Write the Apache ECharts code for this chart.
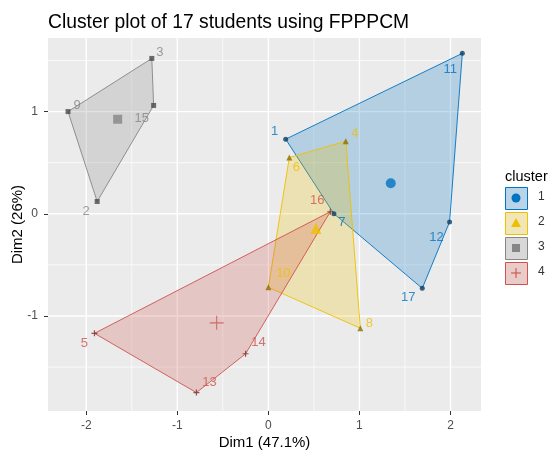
<!DOCTYPE html>
<html><head><meta charset="utf-8">
<script src="https://cdn.jsdelivr.net/npm/echarts@6/dist/echarts.min.js"></script>
<style>html,body{margin:0;padding:0;background:#fff}#c{width:553px;height:452px}</style>
</head><body><div id="c"></div>
<script>
// ---- data ----
const clusterNames = ['1', '2', '3', '4'];
const c1Ids = ['1', '7', '11', '12', '17'];
const c1Dim1 = [0.19, 0.72, 2.13, 1.99, 1.69];
const c1Dim2 = [0.73, 0.00, 1.57, -0.08, -0.73];
const c2Ids = ['4', '6', '8', '10'];
const c2Dim1 = [0.85, 0.23, 1.01, 0.00];
const c2Dim2 = [0.71, 0.55, -1.12, -0.72];
const c3Ids = ['2', '3', '9', '15'];
const c3Dim1 = [-1.88, -1.28, -2.20, -1.26];
const c3Dim2 = [0.12, 1.52, 1.00, 1.06];
const c4Ids = ['5', '13', '14', '16'];
const c4Dim1 = [-1.91, -0.79, -0.25, 0.68];
const c4Dim2 = [-1.17, -1.75, -1.37, 0.02];
const xTicks = [-2, -1, 0, 1, 2];
const yTicks = [-1, 0, 1];
const xMinor = [-1.5, -0.5, 0.5, 1.5];
const yMinor = [-1.5, -0.5, 0.5, 1.5];
const xRange = [-2.42, 2.335];
const yRange = [-1.93, 1.72];

// ---- styles ----
const FONT = 'Liberation Sans, Arial, sans-serif';
const colors = ['#0073C2', '#EFC000', '#868686', '#CD534C'];
const darkColors = ['#0B3D66', '#8A6E00', '#4A4A4A', '#7A2E2A'];
const fillAlpha = 0.24;
const plusPath = 'path://M0,5L10,5M5,0L5,10';
const memberSymbols = ['circle', 'triangle', 'rect', plusPath];
const memberSizes = [5, 6, 5, 6];
const centerSizes = [10, 11, 9, 14];
const labelOffset = {
  '1': [-11, -8], '7': [8, 9], '11': [-12, 16], '12': [-13, 15], '17': [-14, 9],
  '4': [9, -8], '6': [7, 10], '8': [9, -5], '10': [15, -14],
  '2': [-11, 10], '3': [8, -6], '9': [9, -6], '15': [-12, 13],
  '5': [-10, 10], '13': [13, -10], '14': [13, -11], '16': [-13, -11]
};

function rgba(hex, a) {
  const n = parseInt(hex.slice(1), 16);
  return 'rgba(' + (n >> 16) + ',' + ((n >> 8) & 255) + ',' + (n & 255) + ',' + a + ')';
}
function hull(pts) {
  const p = pts.slice().sort((a, b) => a[0] - b[0] || a[1] - b[1]);
  const cross = (o, a, b) => (a[0] - o[0]) * (b[1] - o[1]) - (a[1] - o[1]) * (b[0] - o[0]);
  const lower = [], upper = [];
  for (const q of p) { while (lower.length >= 2 && cross(lower[lower.length - 2], lower[lower.length - 1], q) <= 0) lower.pop(); lower.push(q); }
  for (let i = p.length - 1; i >= 0; i--) { const q = p[i]; while (upper.length >= 2 && cross(upper[upper.length - 2], upper[upper.length - 1], q) <= 0) upper.pop(); upper.push(q); }
  upper.pop(); lower.pop();
  return lower.concat(upper);
}

const clusters = [
  { ids: c1Ids, x: c1Dim1, y: c1Dim2 },
  { ids: c2Ids, x: c2Dim1, y: c2Dim2 },
  { ids: c3Ids, x: c3Dim1, y: c3Dim2 },
  { ids: c4Ids, x: c4Dim1, y: c4Dim2 }
];

const series = [];
// grid lines
const gridData = [];
xMinor.forEach(v => gridData.push([v, 0, 0]));
yMinor.forEach(v => gridData.push([v, 1, 0]));
xTicks.forEach(v => gridData.push([v, 0, 1]));
yTicks.forEach(v => gridData.push([v, 1, 1]));
series.push({
  type: 'custom', silent: true, z: 0, data: gridData, clip: true,
  renderItem: (params, api) => {
    const v = api.value(0), o = api.value(1), m = api.value(2);
    const a = o === 0 ? api.coord([v, yRange[0]]) : api.coord([xRange[0], v]);
    const b = o === 0 ? api.coord([v, yRange[1]]) : api.coord([xRange[1], v]);
    return { type: 'line', shape: { x1: a[0], y1: a[1], x2: b[0], y2: b[1] },
      style: { stroke: '#FFFFFF', lineWidth: m ? 1.4 : 0.7 } };
  }
});

clusters.forEach((c, k) => {
  const pts = c.x.map((v, i) => [v, c.y[i]]);
  const h = hull(pts);
  const cx = c.x.reduce((s, v) => s + v, 0) / c.x.length;
  const cy = c.y.reduce((s, v) => s + v, 0) / c.y.length;
  c.center = [cx, cy];
  series.push({
    type: 'custom', name: clusterNames[k], silent: true, z: 1 + k * 0.01, data: [[cx, cy]],
    renderItem: (params, api) => ({
      type: 'polygon', shape: { points: h.map(p => api.coord(p)) },
      style: { fill: rgba(colors[k], fillAlpha), stroke: colors[k], lineWidth: 0.9 }
    })
  });
});
clusters.forEach((c, k) => {
  series.push({
    type: 'scatter', name: clusterNames[k], z: 3, silent: true,
    symbol: memberSymbols[k], symbolSize: memberSizes[k],
    itemStyle: k === 3 ? { color: 'none', borderColor: darkColors[k], borderWidth: 1.2 } : { color: darkColors[k] },
    label: { show: true, position: 'inside', formatter: '{b}', color: colors[k], fontSize: 13, fontFamily: FONT },
    data: c.ids.map((id, i) => ({ name: id, value: [c.x[i], c.y[i]], label: { offset: labelOffset[id] } }))
  });
  series.push({
    type: 'scatter', name: clusterNames[k], z: 4, silent: true,
    symbol: memberSymbols[k], symbolSize: centerSizes[k],
    itemStyle: k === 3 ? { color: 'none', borderColor: colors[k], borderWidth: 1.1 } : { color: colors[k] },
    data: [c.center]
  });
});

// legend drawn as graphics, generated from the cluster names
const graphics = [];
const lgX = 505, lgY = 187, key = 22, pitch = 25;
clusterNames.forEach((nm, k) => {
  const y = lgY + k * pitch;
  const cx = lgX + key / 2, cy = y + key / 2;
  graphics.push({ type: 'rect', left: lgX, top: y, shape: { width: key, height: key },
    style: { fill: '#F2F2F2', stroke: null } });
  graphics.push({ type: 'rect', left: lgX, top: y, shape: { width: key, height: key },
    style: { fill: rgba(colors[k], fillAlpha), stroke: colors[k], lineWidth: 1 } });
  if (k === 0) graphics.push({ type: 'circle', shape: { cx: cx, cy: cy, r: 4.5 }, style: { fill: colors[k] } });
  if (k === 1) graphics.push({ type: 'polygon', shape: { points: [[cx, cy - 5], [cx + 5, cy + 4], [cx - 5, cy + 4]] }, style: { fill: colors[k] } });
  if (k === 2) graphics.push({ type: 'rect', shape: { x: cx - 4, y: cy - 4, width: 8, height: 8 }, style: { fill: colors[k] } });
  if (k === 3) {
    graphics.push({ type: 'line', shape: { x1: cx - 5, y1: cy, x2: cx + 5, y2: cy }, style: { stroke: colors[k], lineWidth: 1.1 } });
    graphics.push({ type: 'line', shape: { x1: cx, y1: cy - 5, x2: cx, y2: cy + 5 }, style: { stroke: colors[k], lineWidth: 1.1 } });
  }
  graphics.push({ type: 'text', left: lgX + key + 11, top: cy - 7,
    style: { text: nm, fill: '#333', font: '12px ' + FONT } });
});

const chart = echarts.init(document.getElementById('c'), null, { renderer: 'canvas' });
chart.setOption({
  animation: false,
  backgroundColor: '#FFFFFF',
  title: [
    { text: 'Cluster plot of 17 students using FPPPCM', left: 43, top: 8,
      textStyle: { fontSize: 19.3, fontWeight: 'normal', color: '#000', fontFamily: FONT } },
    { text: 'cluster', left: 500, top: 164,
      textStyle: { fontSize: 14.5, fontWeight: 'normal', color: '#000', fontFamily: FONT } }
  ],
  grid: { left: 48, right: 72, top: 38, bottom: 41, show: true, backgroundColor: '#EBEBEB', borderWidth: 0,
    containLabel: false, outerBoundsMode: 'none' },
  xAxis: {
    type: 'value', min: xRange[0], max: xRange[1],
    axisLine: { show: true, onZero: false, lineStyle: { color: 'rgba(0,0,0,0)' } },
    axisTick: { show: true, customValues: xTicks, length: 4, lineStyle: { color: '#333', width: 1 } },
    axisLabel: { customValues: xTicks, margin: 9, color: '#4D4D4D', fontSize: 12, fontFamily: FONT },
    splitLine: { show: false },
    name: 'Dim1 (47.1%)', nameLocation: 'middle', nameGap: 24, nameMoveOverlap: false,
    nameTextStyle: { fontSize: 15, color: '#000', fontFamily: FONT }
  },
  yAxis: {
    type: 'value', min: yRange[0], max: yRange[1],
    axisLine: { show: true, onZero: false, lineStyle: { color: 'rgba(0,0,0,0)' } },
    axisTick: { show: true, customValues: yTicks, length: 4, lineStyle: { color: '#333', width: 1 } },
    axisLabel: { customValues: yTicks, margin: 10, color: '#4D4D4D', fontSize: 12, fontFamily: FONT },
    splitLine: { show: false },
    name: 'Dim2 (26%)', nameLocation: 'middle', nameGap: 23, nameRotate: 90, nameMoveOverlap: false,
    nameTextStyle: { fontSize: 15, color: '#000', fontFamily: FONT }
  },
  graphic: graphics,
  series: series
});
</script>
</body></html>
